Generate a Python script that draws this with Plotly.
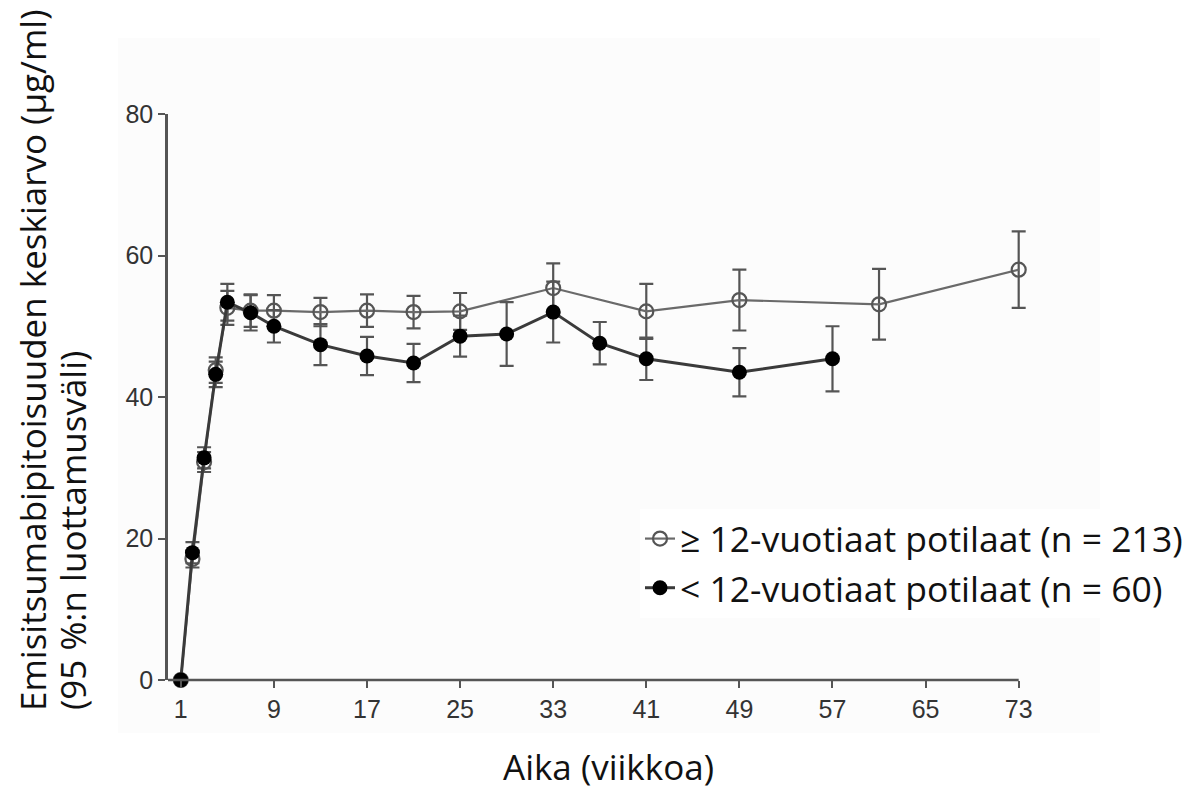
import plotly.graph_objects as go

# ---- data ----
weeks_ge12 = [1, 2, 3, 4, 5, 7, 9, 13, 17, 21, 25, 33, 41, 49, 61, 73]
mean_ge12 = [0, 17.1, 30.8, 43.8, 52.6, 52.2, 52.2, 52.0, 52.2, 52.0, 52.1, 55.4, 52.1, 53.7, 53.1, 58.0]
ci_ge12 = [0, 1.2, 1.4, 1.8, 2.4, 2.3, 2.2, 2.0, 2.3, 2.3, 2.6, 3.5, 3.9, 4.3, 5.0, 5.4]

weeks_lt12 = [1, 2, 3, 4, 5, 7, 9, 13, 17, 21, 25, 29, 33, 37, 41, 49, 57]
mean_lt12 = [0, 18.0, 31.4, 43.2, 53.4, 51.9, 50.0, 47.4, 45.8, 44.8, 48.6, 48.9, 52.0, 47.6, 45.4, 43.5, 45.4]
ci_lt12 = [0, 1.5, 1.5, 1.8, 2.6, 2.5, 2.3, 2.9, 2.7, 2.7, 2.9, 4.5, 4.3, 3.0, 3.0, 3.4, 4.6]

x_ticks = [1, 9, 17, 25, 33, 41, 49, 57, 65, 73]
y_ticks = [0, 20, 40, 60, 80]

label_ge12 = "≥ 12-vuotiaat potilaat (n = 213)"
label_lt12 = "< 12-vuotiaat potilaat (n = 60)"
x_title = "Aika (viikkoa)"
y_title_line1 = "Emisitsumabipitoisuuden keskiarvo (µg/ml)"
y_title_line2 = "(95 %:n luottamusväli)"

W, H = 1197, 789
OFF = 8  # page body margin
# plot area in screen px: x 168..1028, y 114..680
ML, MT = 168 - OFF, 114 - OFF
MR = W - (1028 - OFF)
MB = H - (680 - OFF)
X_MIN, X_MAX, X_LINE_END = -0.1, 73.8, 73

TXT_FONT = "Open Sans"

fig = go.Figure()

fig.add_trace(go.Scatter(
    x=weeks_ge12, y=mean_ge12, name=label_ge12, mode="lines+markers",
    line=dict(color="#6a6a6a", width=2.2),
    marker=dict(symbol="circle-open", size=14, color="#555555", line=dict(width=2.2, color="#555555")),
    error_y=dict(type="data", array=ci_ge12, visible=True, color="#555555", thickness=2.2, width=7),
    cliponaxis=False,
))
fig.add_trace(go.Scatter(
    x=weeks_lt12, y=mean_lt12, name=label_lt12, mode="lines+markers",
    line=dict(color="#3a3a3a", width=3),
    marker=dict(symbol="circle", size=15, color="#000000"),
    error_y=dict(type="data", array=ci_lt12, visible=True, color="#555555", thickness=2.2, width=7),
    cliponaxis=False,
))

plot_w = W - ML - MR
plot_h = H - MT - MB


def px_x(p):
    return (p - OFF - ML) / plot_w


def px_y(p):
    return (H - MB - (p - OFF)) / plot_h


fig.add_shape(type="rect", xref="paper", yref="paper",
              x0=px_x(118), x1=px_x(1100), y0=px_y(733), y1=px_y(38),
              fillcolor="#fcfcfc", line=dict(width=0), layer="below")
# x-axis baseline ending at the last tick
fig.add_shape(type="line", xref="x", yref="paper",
              x0=X_MIN, x1=X_LINE_END, y0=0, y1=0,
              line=dict(color="#555555", width=2.5), layer="above")

title_font = dict(family=TXT_FONT, size=35, color="#111111")
fig.add_annotation(text=x_title, xref="paper", yref="paper",
                   x=px_x(608), y=px_y(766), xanchor="center", yanchor="middle",
                   showarrow=False, font=title_font)
fig.add_annotation(text=y_title_line1, xref="paper", yref="paper",
                   x=px_x(32), y=px_y(361), xanchor="center", yanchor="middle",
                   textangle=-90, showarrow=False, font=title_font)
fig.add_annotation(text=y_title_line2, xref="paper", yref="paper",
                   x=px_x(72), y=px_y(531), xanchor="center", yanchor="middle",
                   textangle=-90, showarrow=False, font=title_font)

fig.update_layout(
    width=W, height=H,
    margin=dict(l=ML, r=MR, t=MT, b=MB, pad=0),
    paper_bgcolor="white", plot_bgcolor="rgba(0,0,0,0)",
    showlegend=True,
    legend=dict(x=px_x(640), y=px_y(509), xanchor="left", yanchor="top",
                bgcolor="white", font=dict(family=TXT_FONT, size=35.5, color="#111111"),
                itemwidth=30, tracegroupgap=0),
    xaxis=dict(range=[X_MIN, X_MAX], tickmode="array", tickvals=x_ticks,
               showgrid=False, zeroline=False, showline=False,
               ticks="outside", ticklen=7, tickwidth=2, tickcolor="#555555",
               tickfont=dict(family="Liberation Sans", size=25, color="#333333")),
    yaxis=dict(range=[0, 80], tickmode="array", tickvals=y_ticks,
               showgrid=False, zeroline=False, showline=True, linecolor="#555555", linewidth=2.5,
               ticks="outside", ticklen=7, tickwidth=2, tickcolor="#555555",
               tickfont=dict(family="Liberation Sans", size=25, color="#333333")),
)

fig.write_html("out.html")
